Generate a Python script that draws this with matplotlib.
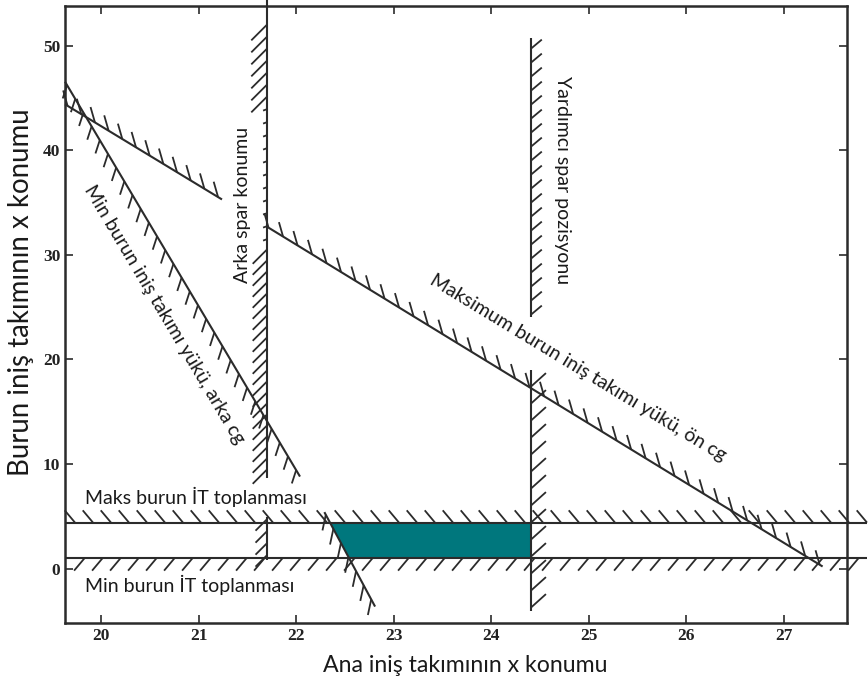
import numpy as np
import matplotlib
matplotlib.use("Agg")
import matplotlib.pyplot as plt
from matplotlib.collections import LineCollection

# axis ranges and ticks
x_lim = [19.63, 27.65]
y_lim = [-5.2, 53.8]
x_ticks = [20, 21, 22, 23, 24, 25, 26, 27]
y_ticks = [0, 10, 20, 30, 40, 50]

# constraint lines (data coords)
gear_max_y = 4.4          # Maks burun IT toplanmasi
gear_min_y = 1.05         # Min burun IT toplanmasi
gear_x_end = 27.86

rear_spar_x = 21.7
rear_spar_segs = [(54.4, 8.7), (4.9, 0.8)]
aux_spar_x = 24.41
aux_spar_segs = [(50.7, 24.1), (19.0, -4.1)]

fwd_cg_x = [21.7, 27.40]
fwd_cg_y = [32.7, 0.2]
line_a_x = [19.63, 21.24]
line_a_y = [44.4, 35.3]
aft_cg_x = [19.63, 22.04]
aft_cg_y = [46.56, 8.8]
line_c_x = [22.29, 22.81]
line_c_y = [5.4, -3.63]

ink = "#2b2b2b"
teal = "#00777d"

fig = plt.figure(figsize=(8.68, 6.88), dpi=100)
ax = fig.add_axes([0.0749, 0.0945, 0.9009, 0.8968])
ax.set_xlim(x_lim)
ax.set_ylim(y_lim)


def hatch(xs, ys, length, angle, spacing, start=4, lw=1.3):
    """short tick marks along a segment, length/spacing in pixels"""
    tr = ax.transData
    p0 = tr.transform((xs[0], ys[0]))
    p1 = tr.transform((xs[1], ys[1]))
    d = p1 - p0
    total = np.hypot(*d)
    u = d / total
    a = np.deg2rad(angle)
    off = np.array([np.cos(a), np.sin(a)]) * length
    segs = []
    for s in np.arange(start, total, spacing):
        p = p0 + u * s
        q = p + off
        segs.append(tr.inverted().transform([p, q]))
    ax.add_collection(LineCollection(segs, colors=ink, linewidths=lw,
                                     clip_on=False))


def line(xs, ys, lw=1.5):
    ax.plot(xs, ys, color=ink, lw=lw, clip_on=False, solid_capstyle="butt")


# feasible region
yy = np.array([gear_min_y, gear_max_y])
left = np.interp(yy, line_c_y[::-1], line_c_x[::-1])
ax.fill([left[0], aux_spar_x, aux_spar_x, left[1]],
        [gear_min_y, gear_min_y, gear_max_y, gear_max_y],
        color=teal, zorder=1, lw=0)

# nose gear retraction limits
line([x_lim[0], gear_x_end], [gear_max_y] * 2)
hatch([x_lim[0], gear_x_end], [gear_max_y] * 2, 16, 130, 18, start=10)
line([x_lim[0], gear_x_end], [gear_min_y] * 2)
hatch([x_lim[0], gear_x_end], [gear_min_y] * 2, 17, 230, 18, start=20)

# rear spar
for y0, y1 in rear_spar_segs:
    line([rear_spar_x] * 2, [y0, y1])
hatch([rear_spar_x] * 2, [52.0, 44.5], 22, 225, 12, start=0)
hatch([rear_spar_x] * 2, [44.5, 30.5], 4, 200, 13, start=6)
hatch([rear_spar_x] * 2, [30.5, 8.8], 20, 225, 11, start=0)
hatch([rear_spar_x] * 2, [4.9, 0.8], 16, 225, 12, start=2)

# auxiliary spar
line([aux_spar_x] * 2, list(aux_spar_segs[0]))
line([aux_spar_x] * 2, list(aux_spar_segs[1]))
hatch([aux_spar_x] * 2, [aux_spar_segs[0][1], aux_spar_segs[0][0]], 14, 40, 14, start=2)
hatch([aux_spar_x] * 2, [aux_spar_segs[1][1], aux_spar_segs[1][0]], 20, 42, 17, start=4)

# nose gear load lines
line(fwd_cg_x, fwd_cg_y)
hatch(fwd_cg_x, fwd_cg_y, 15, 106, 17, start=2)
line(line_a_x, line_a_y)
hatch(line_a_x, line_a_y, 16, 106, 16, start=3)
line(aft_cg_x, aft_cg_y)
hatch(aft_cg_x, aft_cg_y, 14, 252, 16, start=4)
line(line_c_x, line_c_y)
hatch(line_c_x, line_c_y, 16, 258, 16, start=3)

# annotations
lab = dict(family="Lato", fontsize=14, color="#1a1a1a")
ax.text(19.83, 6.9, "Maks burun İT toplanması", ha="left", va="center", **lab)
ax.text(19.83, -1.6, "Min burun İT toplanması", ha="left", va="center", **lab)
ax.text(21.45, 34.8, "Arka spar konumu", rotation=90, ha="center", va="center", **lab)
ax.text(24.73, 37.2, "Yardımcı spar pozisyonu", rotation=-90, ha="center", va="center", **lab)
ax.text(24.89, 19.2, "Maksimum burun iniş takımı yükü, ön cg", rotation=-31.3,
        ha="center", va="center", rotation_mode="anchor", **lab)
ax.text(20.65, 24.3, "Min burun iniş takımı yükü, arka cg", rotation=-59.3,
        ha="center", va="center", rotation_mode="anchor", **lab)

ax.set_xlabel("Ana iniş takımının x konumu", family="Lato", fontsize=16.7,
              color="#1a1a1a")
ax.set_ylabel("Burun iniş takımının x konumu", family="Lato", fontsize=19.9,
              color="#1a1a1a")
ax.xaxis.set_label_coords(0.512, -0.052)
ax.yaxis.set_label_coords(-0.040, 0.536)

ax.set_xticks(x_ticks)
ax.set_yticks(y_ticks)
ax.tick_params(direction="in", length=6, width=1.2, top=True, right=True,
               colors=ink, labelcolor="#222222")
for t in ax.get_xticklabels() + ax.get_yticklabels():
    t.set_family("Liberation Serif")
    t.set_fontweight("bold")
    t.set_fontsize(12.5)
for s in ax.spines.values():
    s.set_linewidth(1.8)
    s.set_color(ink)

fig.savefig("out.png", dpi=100)
